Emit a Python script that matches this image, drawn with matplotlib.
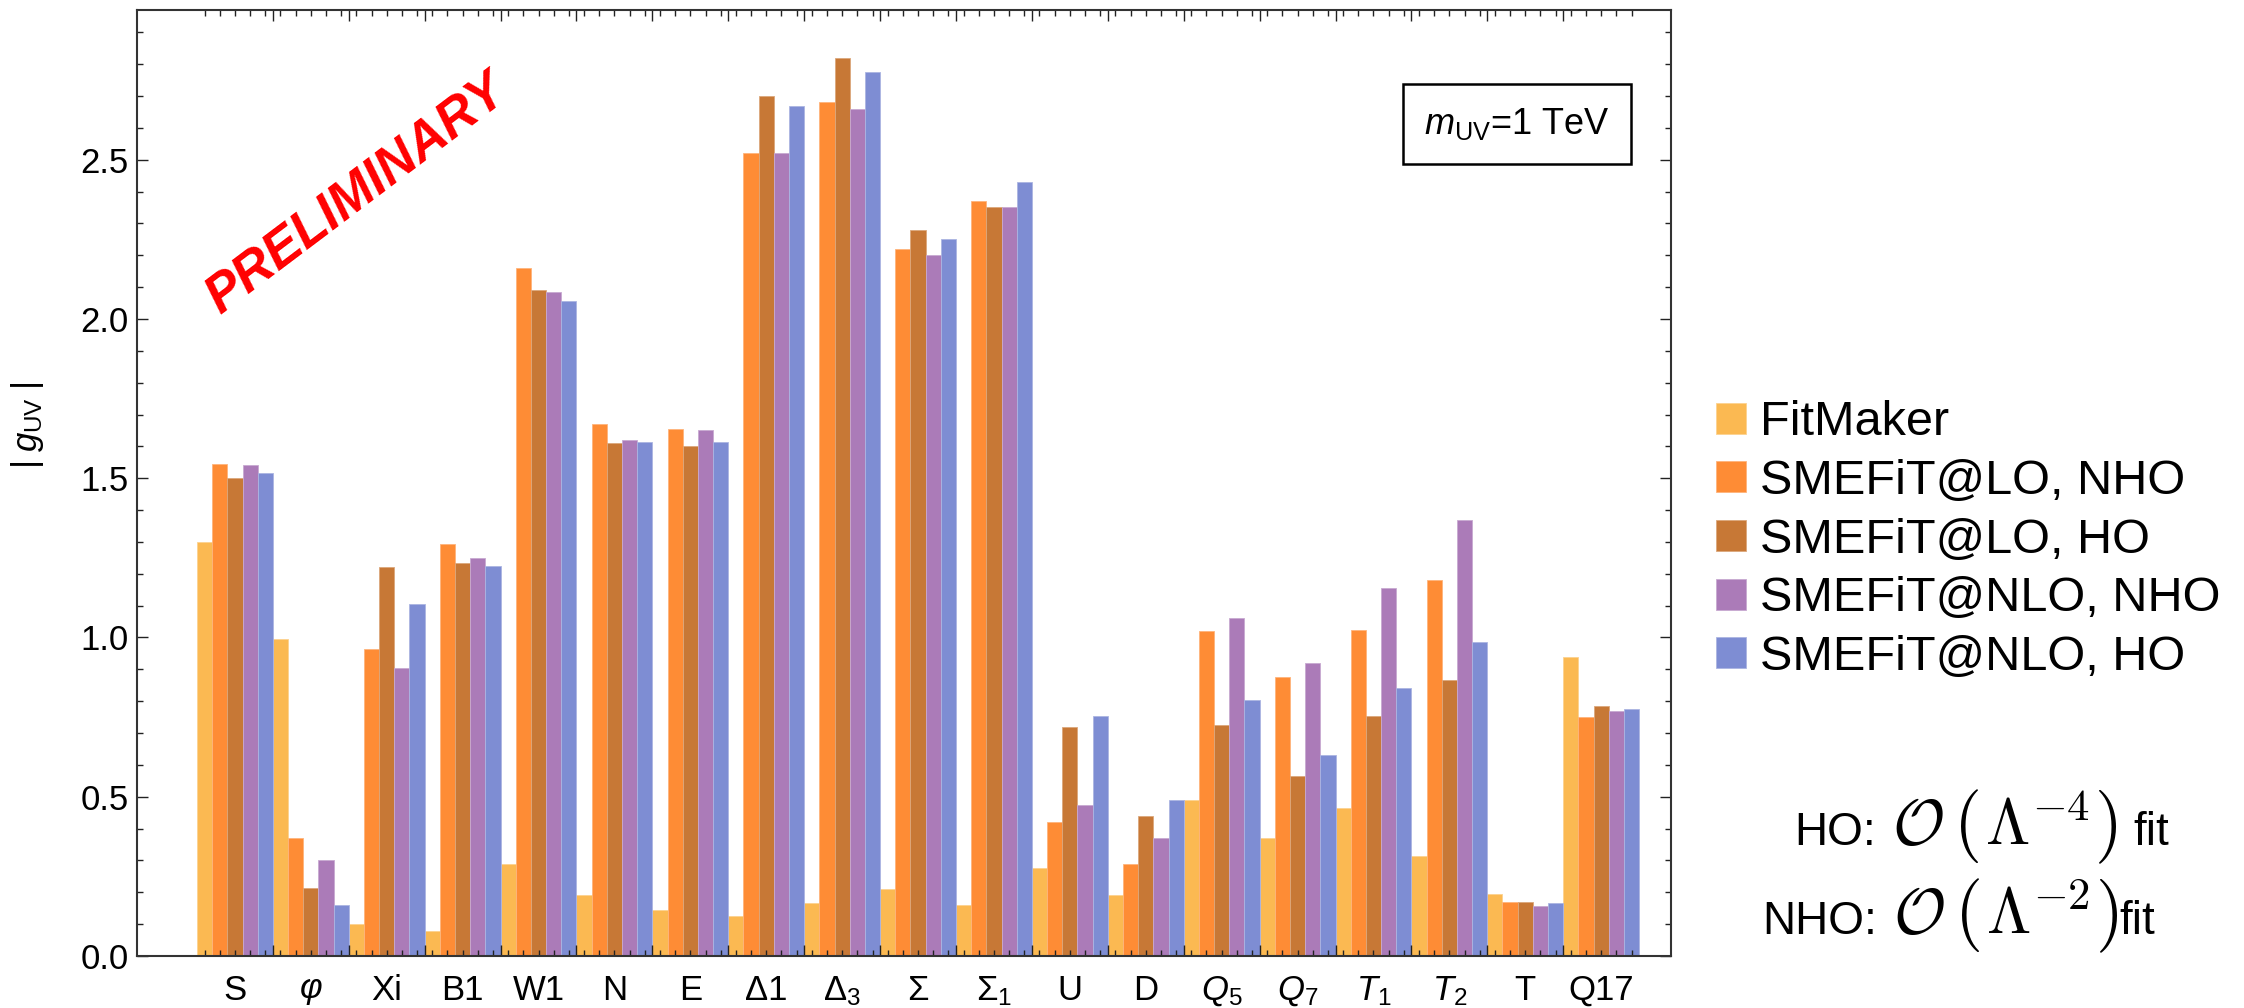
import numpy as np
import matplotlib
matplotlib.use("Agg")
import matplotlib.pyplot as plt
from matplotlib.patches import Patch
from matplotlib.colors import to_rgb

plt.rcParams["font.family"] = ["Liberation Sans", "DejaVu Sans"]
plt.rcParams["mathtext.fontset"] = "custom"
plt.rcParams["mathtext.rm"] = "Liberation Sans"
plt.rcParams["mathtext.it"] = "Liberation Sans:italic"
plt.rcParams["mathtext.bf"] = "Liberation Sans:bold"

# UV models on the x axis
models = ["S", r"$\varphi$", "Xi", "B1", "W1", "N", "E", "Δ1", r"$\mathrm{Δ}_3$", "Σ",
          r"$\mathrm{Σ}_1$", "U", "D", r"$Q_5$", r"$Q_7$", r"$T_1$", r"$T_2$", "T", "Q17"]

# |g_UV| bounds
fitmaker = [1.30, 0.995, 0.10, 0.08, 0.29, 0.19, 0.145, 0.125, 0.165, 0.21,
            0.16, 0.275, 0.19, 0.49, 0.37, 0.465, 0.315, 0.195, 0.94]
lo_nho = [1.545, 0.37, 0.965, 1.295, 2.16, 1.67, 1.655, 2.52, 2.68, 2.22,
          2.37, 0.42, 0.29, 1.02, 0.875, 1.025, 1.18, 0.17, 0.75]
lo_ho = [1.50, 0.215, 1.22, 1.235, 2.09, 1.61, 1.60, 2.70, 2.82, 2.28,
         2.35, 0.72, 0.44, 0.725, 0.565, 0.755, 0.865, 0.17, 0.785]
nlo_nho = [1.54, 0.30, 0.905, 1.25, 2.085, 1.62, 1.65, 2.52, 2.66, 2.20,
           2.35, 0.475, 0.37, 1.06, 0.92, 1.155, 1.37, 0.157, 0.77]
nlo_ho = [1.515, 0.16, 1.105, 1.225, 2.055, 1.615, 1.615, 2.67, 2.775, 2.25,
          2.43, 0.755, 0.49, 0.805, 0.63, 0.84, 0.985, 0.165, 0.775]

series_names = ["FitMaker", "SMEFiT@LO, NHO", "SMEFiT@LO, HO",
                "SMEFiT@NLO, NHO", "SMEFiT@NLO, HO"]
colors = ["#FBB952", "#FE8C35", "#C77836", "#AB7BB8", "#7E8DD3"]


def lighten(c, f=0.35):
    r, g, b = to_rgb(c)
    return (r + (1 - r) * f, g + (1 - g) * f, b + (1 - b) * f)


W, H = 2244, 1008
fig = plt.figure(figsize=(W / 100, H / 100), dpi=100)
ax = fig.add_axes([137 / W, 52 / H, (1671 - 137) / W, (956 - 10) / H])

x = np.arange(len(models))
n = len(series_names)
w = 1.0 / n
all_series = [fitmaker, lo_nho, lo_ho, nlo_nho, nlo_ho]
for j, (vals, c) in enumerate(zip(all_series, colors)):
    ax.bar(x - 0.5 + (j + 0.5) * w, vals, width=w, color=c,
           edgecolor=lighten(c), linewidth=0.6)

ax.set_xlim(-1.29, 18.92)
ax.set_ylim(0, 2.97)

# frame ticks: group boundaries (major) and bar centres (minor), mirrored on top
boundaries = np.arange(0.5, len(models) - 1, 1.0)
bar_centres = np.concatenate([x - 0.5 + (j + 0.5) * w for j in range(n)])
ax.set_xticks(boundaries)
ax.set_xticks(bar_centres, minor=True)
ax.tick_params(axis="x", which="both", top=True, bottom=True, direction="in",
               labelbottom=False, width=1.0, color="#222222")
ax.tick_params(axis="x", which="major", length=8)
ax.tick_params(axis="x", which="minor", length=4.5)

lab = ax.secondary_xaxis("bottom")
lab.set_xticks(x, models)
lab.tick_params(length=0, pad=13, labelsize=25)
lab.spines["bottom"].set_visible(False)

ax.set_yticks(np.arange(0, 2.51, 0.5))
ax.set_yticks(np.arange(0, 2.95, 0.1), minor=True)
ax.set_yticklabels([f"{v:.1f}" for v in np.arange(0, 2.51, 0.5)])
ax.tick_params(axis="y", which="both", left=True, right=True, direction="in",
               width=1.0, color="#222222", labelsize=25, pad=6)
ax.tick_params(axis="y", which="major", length=8)
ax.tick_params(axis="y", which="minor", length=4.5)

for sp in ax.spines.values():
    sp.set_linewidth(1.5)
    sp.set_color("#333333")

fig.text(28 / W, 1 - 425 / H, r"$|\;g_{\rm UV}\;|$", rotation=90,
         ha="center", va="center", fontsize=25)

# watermark and mass box
ax.text(1.6, 2.39, "PRELIMINARY", color="red", fontsize=38, fontweight="bold",
        fontstyle="italic", rotation=37, ha="center", va="center")
ax.text(1517 / W, 1 - 124 / H, r"$m_{\rm UV}$=1 TeV", transform=fig.transFigure,
        fontsize=26, ha="center", va="center",
        bbox=dict(boxstyle="square,pad=0.6", facecolor="white",
                  edgecolor="black", linewidth=1.8))

handles = [Patch(facecolor=c, edgecolor=lighten(c), linewidth=0.6) for c in colors]
fig.legend(handles, series_names, loc="upper left",
           bbox_to_anchor=(1697 / W, 1 - 381 / H), frameon=False,
           fontsize=35, handlelength=0.6, handleheight=0.6,
           handletextpad=0.3, labelspacing=0.28, borderaxespad=0)

# "HO: O(Lambda^-4) fit" lines, built piece by piece so the math and
# the brackets can be larger than the surrounding text
renderer = fig.canvas.get_renderer()


def chain(x0, y0, pieces):
    xp = x0
    for s, fs, mf, gap in pieces:
        xp += gap
        kw = {"math_fontfamily": mf} if mf else {}
        t = fig.text(xp / W, 1 - y0 / H, s, fontsize=fs, ha="left",
                     va="baseline", **kw)
        xp = t.get_window_extent(renderer).x1


def formula(power, tail_gap):
    return [(r"$\mathcal{O}$", 46, "cm", 16),
            (r"$($", 52, "cm", 10),
            (r"$\Lambda^{%s}$" % power, 46, "cm", 6),
            (r"$)$", 52, "cm", 4),
            ("fit", 33, None, tail_gap)]


chain(1794, 845, [("HO:", 33, None, 0)] + formula("-4", 16))
chain(1762, 934, [("NHO:", 33, None, 0)] + formula("-2", 2))

fig.savefig("out.png", dpi=100)
